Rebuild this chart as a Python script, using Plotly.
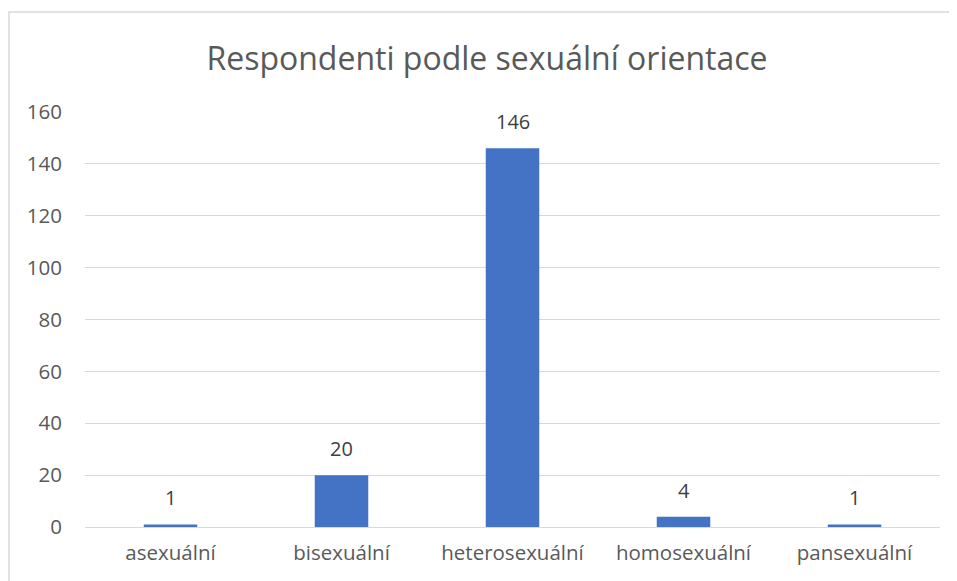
import plotly.graph_objects as go

categories = ["asexuální", "bisexuální", "heterosexuální", "homosexuální", "pansexuální"]
values = [1, 20, 146, 4, 1]
title_text = "Respondenti podle sexuální orientace"
y_ticks = [0, 20, 40, 60, 80, 100, 120, 140, 160]

W, H = 957, 581
# the page body adds an 8px offset, so margins are measured in figure coordinates
L, R, T, B = 77, 25, 104, 62
pw = W - L - R
ph = H - T - B

FONT = "Open Sans"

fig = go.Figure(go.Bar(
    x=categories, y=values,
    marker=dict(color="#4472C4", line=dict(width=0)),
    hoverinfo="x+y",
))

for c, v in zip(categories, values):
    fig.add_annotation(x=c, y=v, text=str(v), showarrow=False,
                       yanchor="bottom", yshift=11,
                       font=dict(family=FONT, size=20, color="#404040"))

# chart border
fig.add_shape(type="rect", xref="paper", yref="paper",
              x0=(1 - L) / pw, x1=(960 - L) / pw,
              y0=-(H + 50 - T - ph) / ph, y1=(H - B - 4) / ph,
              line=dict(color="#D9D9D9", width=1.5), fillcolor="rgba(0,0,0,0)", layer="below")

fig.update_layout(
    width=W, height=H,
    margin=dict(l=L, r=R, t=T, b=B),
    paper_bgcolor="white", plot_bgcolor="white",
    bargap=0.687,
    showlegend=False,
    title=dict(text=title_text, x=(487 - 8) / W, xref="container", xanchor="center",
               y=1 - 51 / H, yanchor="middle",
               font=dict(family=FONT, size=32, color="#595959")),
    font=dict(family=FONT, size=20, color="#595959"),
    xaxis=dict(showgrid=False, showline=False, ticks="", ticklabelstandoff=11,
               tickfont=dict(family=FONT, size=20.5, color="#595959")),
    yaxis=dict(range=[0, 160], tickvals=y_ticks, showgrid=True, gridcolor="#D9D9D9",
               gridwidth=1, zeroline=True, zerolinecolor="#D9D9D9", zerolinewidth=1,
               showline=False, ticks="", ticklabelstandoff=22,
               tickfont=dict(family=FONT, size=20.5, color="#595959")),
)

fig.write_html("out.html")
